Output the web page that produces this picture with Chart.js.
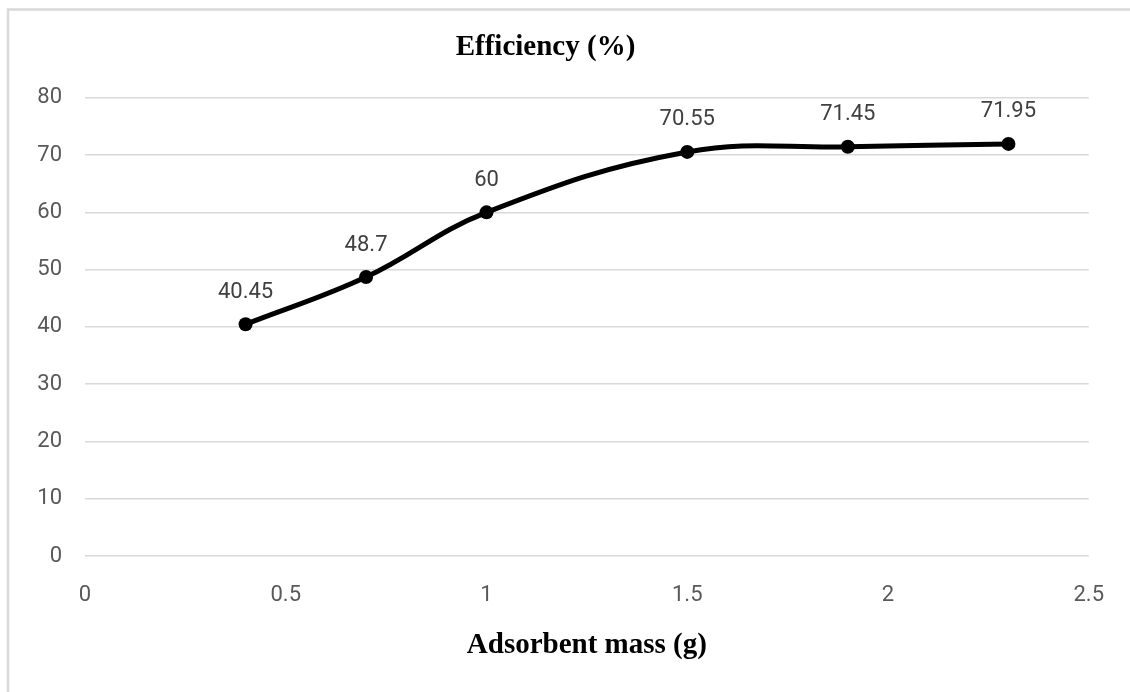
<!DOCTYPE html>
<html lang="en">
<head>
    <meta charset="UTF-8">
    <title>Efficiency vs Adsorbent mass</title>
    <script src="https://cdn.jsdelivr.net/npm/chart.js"></script>
    <style>
        html, body { margin: 0; padding: 0; background: #ffffff; overflow: hidden; }
        .wrap { position: relative; width: 1130px; height: 692px; }
    </style>
</head>
<body>
    <div class="wrap">
        <canvas id="chart" width="1130" height="692"></canvas>
    </div>

    <script>
        // values
        const massValues = [0.4, 0.7, 1.0, 1.5, 1.9, 2.3];
        const efficiencyValues = [40.45, 48.7, 60, 70.55, 71.45, 71.95];
        const pointLabels = ["40.45", "48.7", "60", "70.55", "71.45", "71.95"];

        const chartTitle = "Efficiency (%)";
        const xTitle = "Adsorbent mass (g)";

        // white page + light grey frame (chart border, cut off right/bottom)
        const framePlugin = {
            id: "frame",
            beforeDraw(chart) {
                const ctx = chart.ctx;
                ctx.save();
                ctx.fillStyle = "#ffffff";
                ctx.fillRect(0, 0, chart.width, chart.height);
                ctx.strokeStyle = "#d9d9d9";
                ctx.lineWidth = 2.5;
                ctx.beginPath();
                ctx.moveTo(8, chart.height + 5);
                ctx.lineTo(8, 9.5);
                ctx.lineTo(chart.width + 5, 9.5);
                ctx.stroke();
                ctx.restore();
            }
        };

        // value labels above the points
        const valueLabels = {
            id: "valueLabels",
            afterDatasetsDraw(chart) {
                const ctx = chart.ctx;
                const meta = chart.getDatasetMeta(0);
                ctx.save();
                ctx.font = "22px Roboto";
                ctx.fillStyle = "#404040";
                ctx.textAlign = "center";
                ctx.textBaseline = "middle";
                meta.data.forEach((pt, i) => {
                    ctx.fillText(pointLabels[i], pt.x, pt.y - 32);
                });
                ctx.restore();
            }
        };

        const ctx = document.getElementById("chart").getContext("2d");
        new Chart(ctx, {
            type: "line",
            data: {
                datasets: [{
                    label: "Efficiency (%)",
                    data: massValues.map((m, i) => ({ x: m, y: efficiencyValues[i] })),
                    borderColor: "#000000",
                    backgroundColor: "#000000",
                    borderWidth: 5,
                    tension: 0.4,
                    fill: false,
                    pointRadius: 7,
                    pointHoverRadius: 7,
                    pointBackgroundColor: "#000000",
                    pointBorderWidth: 0
                }]
            },
            options: {
                responsive: false,
                animation: false,
                layout: { padding: { left: 0, right: 39, top: 0, bottom: 0 } },
                plugins: {
                    legend: { display: false },
                    tooltip: { enabled: false },
                    title: {
                        display: true,
                        text: chartTitle,
                        color: "#000000",
                        font: { family: "'Liberation Serif', 'Times New Roman', serif", size: 29, weight: "bold" },
                        padding: { top: 30, bottom: 33 }
                    }
                },
                scales: {
                    x: {
                        type: "linear",
                        min: 0,
                        max: 2.5,
                        ticks: {
                            stepSize: 0.5,
                            color: "#595959",
                            font: { family: "Roboto", size: 22 },
                            padding: 26,
                            maxRotation: 0,
                            callback: v => String(Number(v.toFixed(2)))
                        },
                        grid: { display: false, drawTicks: false },
                        border: { display: false },
                        title: {
                            display: true,
                            text: xTitle,
                            color: "#000000",
                            font: { family: "'Liberation Serif', 'Times New Roman', serif", size: 29, weight: "bold" },
                            padding: { top: 0, bottom: 29 }
                        },
                        afterFit(scale) { scale.height = 136; }
                    },
                    y: {
                        min: 0,
                        max: 80,
                        ticks: {
                            stepSize: 10,
                            color: "#595959",
                            font: { family: "Roboto", size: 22 },
                            padding: 23
                        },
                        grid: { color: "#d9d9d9", lineWidth: 1.5, drawTicks: false },
                        border: { display: false },
                        afterFit(scale) { scale.width = 85; }
                    }
                }
            },
            plugins: [framePlugin, valueLabels]
        });
    </script>
</body>
</html>
